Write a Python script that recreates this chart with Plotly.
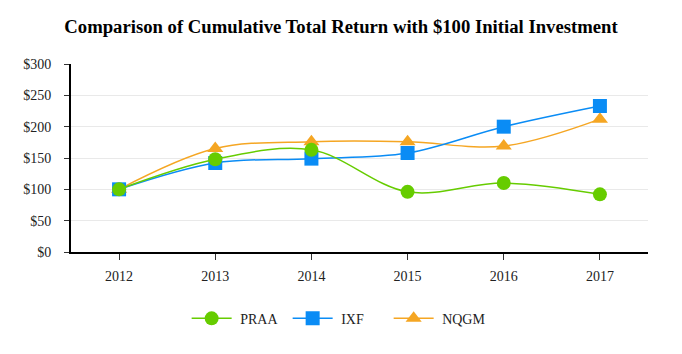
import plotly.graph_objects as go

years = ["2012", "2013", "2014", "2015", "2016", "2017"]
praa = [100, 148, 163, 96, 110, 92]
ixf = [100, 142, 149, 158, 200, 233]
nqgm = [100, 165, 176, 176, 169, 212]
y_ticks = [0, 50, 100, 150, 200, 250, 300]
y_labels = ["$" + str(v) for v in y_ticks]

fig = go.Figure()
series = [
    ("PRAA", praa, "#66CC00", "circle"),
    ("IXF", ixf, "#0A8CF5", "square"),
    ("NQGM", nqgm, "#F5A623", "triangle-up"),
]
for name, vals, color, sym in series:
    fig.add_trace(go.Scatter(
        x=years, y=vals, name="\u00a0" + name, mode="lines+markers",
        line=dict(color=color, width=1.5, shape="spline", smoothing=1.0),
        marker=dict(color=color, symbol=sym, size=14),
    ))

# draw in reverse so PRAA is on top
fig.data = tuple(reversed(fig.data))

fig.update_layout(
    width=682, height=354,
    margin=dict(l=71, r=34, t=64, b=102),
    paper_bgcolor="white", plot_bgcolor="white",
    font=dict(family="Liberation Serif, Times New Roman, serif", size=14, color="#222"),
    title=dict(text="<b>Comparison of Cumulative Total Return with $100 Initial Investment</b>",
               x=0.5, xanchor="center", y=0.925, yanchor="middle",
               font=dict(size=18.7, color="black")),
    showlegend=True,
    legend=dict(orientation="h", x=0.463, xanchor="center", y=-0.27, yanchor="top",
                traceorder="reversed", font=dict(size=14), itemwidth=40,
                entrywidth=46, entrywidthmode="pixels",
                tracegroupgap=0),
    xaxis=dict(type="category", range=[-0.5, 5.5], showgrid=False,
               showline=True, linecolor="black", linewidth=2,
               ticks="outside", ticklen=6, tickcolor="#333", tickwidth=1,
               ticklabelstandoff=4),
    yaxis=dict(range=[0, 300], tickvals=y_ticks, ticktext=y_labels,
               showgrid=True, gridcolor="#e9e9e9", gridwidth=1,
               showline=True, linecolor="black", linewidth=2,
               ticks="outside", ticklen=5, tickcolor="#333",
               ticklabelstandoff=10,
               zeroline=False),
)

fig.write_html("out.html")
